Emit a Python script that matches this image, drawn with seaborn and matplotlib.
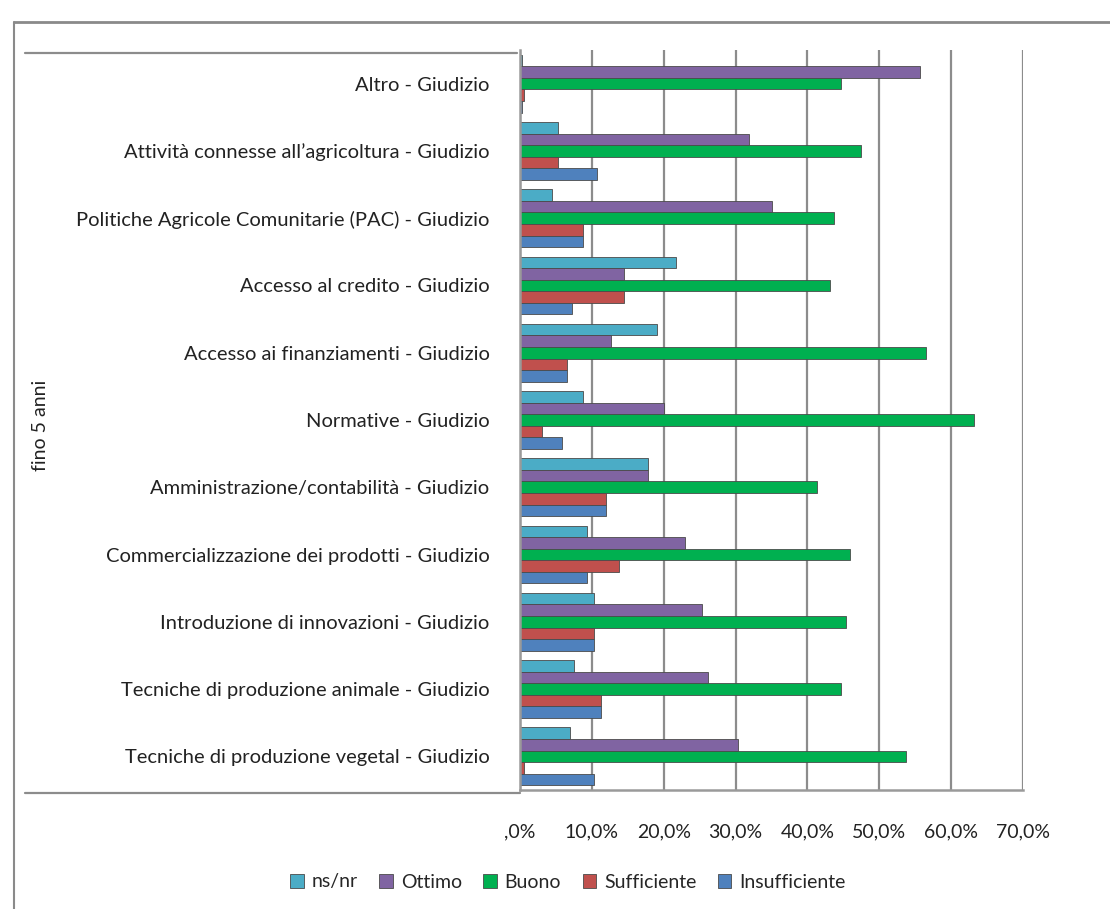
import pandas as pd
import matplotlib.pyplot as plt
import seaborn as sns
from matplotlib.lines import Line2D

# categories (top to bottom) and ratings, in %
categorie = ['Altro - Giudizio',
             'Attività connesse all\u2019agricoltura - Giudizio',
             'Politiche Agricole Comunitarie (PAC) - Giudizio',
             'Accesso al credito - Giudizio',
             'Accesso ai finanziamenti - Giudizio',
             'Normative - Giudizio',
             'Amministrazione/contabilità - Giudizio',
             'Commercializzazione dei prodotti - Giudizio',
             'Introduzione di innovazioni - Giudizio',
             'Tecniche di produzione animale - Giudizio',
             'Tecniche di produzione vegetal - Giudizio']

ns_nr         = [0.3, 5.3, 4.5, 21.7, 19.0, 8.7, 17.8, 9.3, 10.3, 7.5, 6.9]
ottimo        = [55.7, 31.8, 35.0, 14.5, 12.7, 20.1, 17.8, 22.9, 25.3, 26.2, 30.4]
buono         = [44.7, 47.5, 43.7, 43.2, 56.5, 63.2, 41.4, 45.9, 45.4, 44.7, 53.7]
sufficiente   = [0.5, 5.3, 8.8, 14.5, 6.5, 3.0, 12.0, 13.8, 10.3, 11.3, 0.5]
insufficiente = [0.3, 10.7, 8.8, 7.3, 6.5, 5.9, 12.0, 9.3, 10.3, 11.3, 10.3]

serie = ['ns/nr', 'Ottimo', 'Buono', 'Sufficiente', 'Insufficiente']
colori = ['#4BACC6', '#8064A2', '#00B050', '#C0504D', '#4F81BD']
tick_vals = [0, 10, 20, 30, 40, 50, 60, 70]

df = pd.DataFrame({'categoria': categorie, 'ns/nr': ns_nr, 'Ottimo': ottimo,
                   'Buono': buono, 'Sufficiente': sufficiente,
                   'Insufficiente': insufficiente})
long = df.melt(id_vars='categoria', var_name='giudizio', value_name='perc')

sns.set_style('white')
plt.rcParams['font.family'] = ['Lato', 'DejaVu Sans']

fig = plt.figure(figsize=(11.1, 9.09), dpi=100)
W, H = 1110, 909
ax = fig.add_axes([520 / W, 1 - 790 / H, (1023 - 520) / W, (790 - 50) / H])

sns.barplot(data=long, y='categoria', x='perc', hue='giudizio',
            hue_order=serie, palette=colori, order=categorie, saturation=1,
            orient='h', width=0.86, linewidth=0.6, edgecolor='#4a4a4a',
            ax=ax, legend=True)

ax.set_xlim(0, 70)
ax.set_ylim(len(categorie) - 0.5, -0.5)
ax.set_xticks(tick_vals)
ax.set_xticklabels([(',0%' if v == 0 else f'{v:.1f}%'.replace('.', ','))
                    for v in tick_vals], fontsize=14, color='#222222')
ax.tick_params(axis='x', length=0, pad=24)
ax.tick_params(axis='y', length=0, pad=22, labelsize=14.5, labelcolor='#222222')
ax.set_xlabel('')
ax.set_ylabel('')
ax.grid(axis='x', color='#8c8c8c', linewidth=1.6)
ax.set_axisbelow(True)
for s in ['top', 'right']:
    ax.spines[s].set_visible(False)
for s in ['left', 'bottom']:
    ax.spines[s].set_color('#9a9a9a')
    ax.spines[s].set_linewidth(1.8)

# legend at the bottom
handles, labels = ax.get_legend_handles_labels()
ax.legend(handles, labels, loc='center', bbox_to_anchor=(568 / W, 1 - 882 / H),
          bbox_transform=fig.transFigure, ncol=5, frameon=False, fontsize=14,
          handlelength=0.7, handleheight=0.7, handletextpad=0.4,
          columnspacing=1.1)

# outer frame and category axis lines
fig.add_artist(Line2D([14 / W, 1], [1 - 22 / H, 1 - 22 / H], color='#8a8a8a', lw=2))
fig.add_artist(Line2D([14 / W, 14 / W], [0, 1 - 22 / H], color='#8a8a8a', lw=1.5))
fig.add_artist(Line2D([25 / W, 517 / W], [1 - 53 / H, 1 - 53 / H], color='#8c8c8c', lw=1.6))
fig.add_artist(Line2D([25 / W, 520 / W], [1 - 793 / H, 1 - 793 / H], color='#8c8c8c', lw=1.6))

fig.text(40 / W, 1 - 425 / H, 'fino 5 anni', rotation=90, ha='center',
         va='center', fontsize=14, color='#222222')

fig.savefig('out.png', dpi=100)
